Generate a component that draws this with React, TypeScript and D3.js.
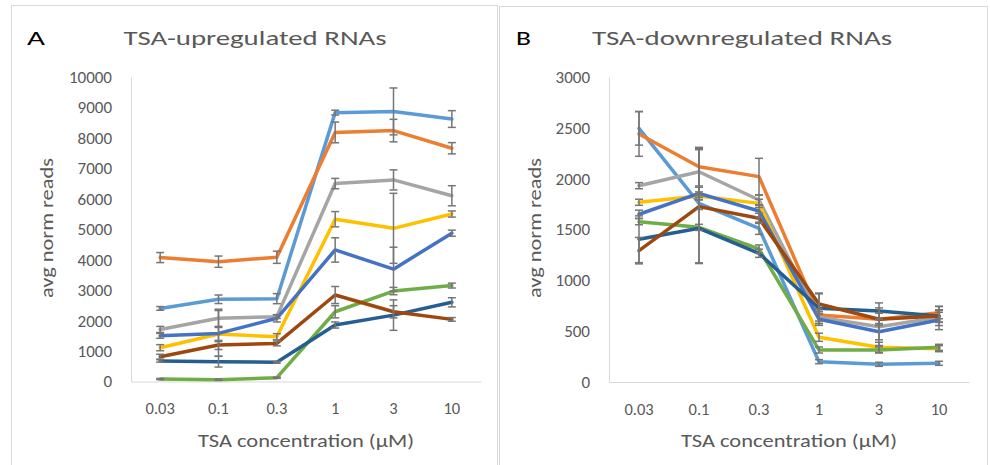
import React, { useEffect, useRef } from 'react';
import * as d3 from 'd3';

// x categories (TSA concentration, µM)
const categories = ['0.03', '0.1', '0.3', '1', '3', '10'];

// Excel office palette, in series order
const seriesColors = ['#5B9BD5', '#ED7D31', '#A5A5A5', '#FFC000', '#4472C4', '#70AD47', '#255E91', '#9E480E'];

// panel A - TSA-upregulated RNAs (avg norm reads)
const upLightBlue = [2400, 2700, 2720, 8830, 8870, 8620];
const upOrange = [4070, 3935, 4080, 8180, 8240, 7660];
const upGray = [1710, 2075, 2130, 6500, 6620, 6100];
const upYellow = [1110, 1560, 1470, 5330, 5030, 5500];
const upBlue = [1500, 1580, 2075, 4320, 3690, 4870];
const upGreen = [80, 60, 125, 2290, 2970, 3150];
const upNavy = [675, 650, 630, 1855, 2180, 2600];
const upBrown = [815, 1200, 1250, 2840, 2290, 2040];

const upErrLightBlue = [60, 140, 165, 80, 770, 275];
const upErrOrange = [165, 185, 200, 340, 370, 185];
const upErrGray = [100, 300, 60, 170, 330, 330];
const upErrYellow = [100, 250, 100, 250, 1150, 100];
const upErrBlue = [80, 750, 120, 400, 720, 100];
const upErrGreen = [20, 20, 20, 200, 120, 80];
const upErrNavy = [40, 175, 30, 100, 500, 150];
const upErrBrown = [80, 150, 80, 280, 200, 60];

const upTicks = [0, 1000, 2000, 3000, 4000, 5000, 6000, 7000, 8000, 9000, 10000];

// panel B - TSA-downregulated RNAs
const downLightBlue = [2495, 1757, 1512, 200, 174, 184];
const downOrange = [2440, 2118, 2020, 660, 617, 682];
const downGray = [1931, 2068, 1790, 636, 544, 636];
const downYellow = [1768, 1830, 1757, 440, 341, 328];
const downBlue = [1650, 1856, 1682, 617, 495, 610];
const downGreen = [1577, 1521, 1308, 315, 315, 341];
const downNavy = [1404, 1512, 1266, 725, 698, 650];
const downBrown = [1292, 1725, 1610, 767, 617, 650];

const downErrLightBlue = [165, 60, 60, 20, 20, 20];
const downErrOrange = [220, 190, 180, 60, 60, 60];
const downErrGray = [30, 230, 50, 60, 185, 50];
const downErrYellow = [30, 40, 40, 40, 50, 30];
const downErrBlue = [40, 60, 60, 60, 80, 95];
const downErrGreen = [30, 30, 40, 30, 30, 30];
const downErrNavy = [230, 340, 40, 150, 80, 60];
const downErrBrown = [130, 560, 50, 100, 60, 95];

const downTicks = [0, 500, 1000, 1500, 2000, 2500, 3000];

const panels = [
	{
		letter: 'A', title: 'TSA-upregulated RNAs',
		box: [11, 5, 497, 475], letterX: 27, letterW: 18, titleX: 255, titleW: 263, yTitleX: 53,
		plot: { left: 131, right: 481, top: 77, bottom: 381.5 },
		max: 10000, ticks: upTicks,
		values: [upLightBlue, upOrange, upGray, upYellow, upBlue, upGreen, upNavy, upBrown],
		errors: [upErrLightBlue, upErrOrange, upErrGray, upErrYellow, upErrBlue, upErrGreen, upErrNavy, upErrBrown],
	},
	{
		letter: 'B', title: 'TSA-downregulated RNAs',
		box: [499, 6, 987, 475], letterX: 516, letterW: 15, titleX: 742, titleW: 300, yTitleX: 541,
		plot: { left: 609, right: 969, top: 77, bottom: 382 },
		max: 3000, ticks: downTicks,
		values: [downLightBlue, downOrange, downGray, downYellow, downBlue, downGreen, downNavy, downBrown],
		errors: [downErrLightBlue, downErrOrange, downErrGray, downErrYellow, downErrBlue, downErrGreen, downErrNavy, downErrBrown],
	},
];

const font = 'Carlito, Calibri, Lato, sans-serif';
const textGray = '#595959';
const axisGray = '#D9D9D9';

const App = () => {
	const chartRef = useRef<SVGSVGElement>(null);

	useEffect(() => {
		const svg = d3.select(chartRef.current);
		svg.selectAll('*').remove();
		svg.append('rect').attr('width', 990).attr('height', 465).attr('fill', '#fff');

		panels.forEach((p) => {
			const g = svg.append('g').style('font-family', font);
			const [bx0, by0, bx1, by1] = p.box;
			g.append('rect')
				.attr('x', bx0 + 0.5).attr('y', by0 + 0.5)
				.attr('width', bx1 - bx0).attr('height', by1 - by0)
				.attr('fill', '#fff').attr('stroke', axisGray);

			// the source picture is stretched sideways, so the long labels get a fixed length
			g.append('text').attr('x', p.letterX).attr('y', 45)
				.attr('font-size', 20).attr('fill', '#000')
				.attr('textLength', p.letterW).attr('lengthAdjust', 'spacingAndGlyphs')
				.text(p.letter);
			g.append('text').attr('x', p.titleX - p.titleW / 2).attr('y', 45)
				.attr('font-size', 20).attr('font-weight', 300).attr('fill', textGray)
				.attr('textLength', p.titleW).attr('lengthAdjust', 'spacingAndGlyphs')
				.text(p.title);

			const x = d3.scaleBand().domain(categories).range([p.plot.left, p.plot.right]).padding(0);
			const cx = (c: string) => (x(c) as number) + x.bandwidth() / 2;
			const y = d3.scaleLinear().domain([0, p.max]).range([p.plot.bottom, p.plot.top]);

			const yAxis = g.append('g')
				.attr('transform', `translate(${p.plot.left},0)`)
				.call(d3.axisLeft(y).tickValues(p.ticks).tickSize(0).tickPadding(19).tickFormat(d3.format('d')));
			yAxis.select('.domain').attr('stroke', axisGray);
			yAxis.selectAll('text').attr('font-size', 17).attr('fill', textGray).style('font-family', font);

			const xAxis = g.append('g')
				.attr('transform', `translate(0,${p.plot.bottom})`)
				.call(d3.axisBottom(x).tickSize(0).tickPadding(21));
			xAxis.select('.domain').attr('stroke', axisGray);
			xAxis.selectAll('text').attr('font-size', 16.5).attr('fill', textGray).style('font-family', font);

			const xMid = (p.plot.left + p.plot.right) / 2;
			g.append('text')
				.attr('x', xMid - 108).attr('y', 447)
				.attr('font-size', 18).attr('fill', textGray)
				.attr('textLength', 216).attr('lengthAdjust', 'spacingAndGlyphs')
				.text('TSA concentration (µM)');
			g.append('text')
				.attr('transform', `translate(${p.yTitleX},298) rotate(-90)`)
				.attr('font-size', 19).attr('fill', textGray)
				.attr('textLength', 140).attr('lengthAdjust', 'spacingAndGlyphs')
				.text('avg norm reads');

			const line = d3.line<number>()
				.x((d, i) => cx(categories[i]))
				.y(d => y(d));

			p.values.forEach((vals, si) => {
				g.append('path')
					.datum(vals)
					.attr('fill', 'none')
					.attr('stroke', seriesColors[si])
					.attr('stroke-width', 3.5)
					.attr('stroke-linejoin', 'round')
					.attr('stroke-linecap', 'round')
					.attr('d', line);
			});

			p.values.forEach((vals, si) => {
				vals.forEach((v, i) => {
					const e = p.errors[si][i];
					const xc = cx(categories[i]);
					const eb = g.append('g').attr('stroke', '#767676').attr('stroke-width', 1.5);
					eb.append('line').attr('x1', xc).attr('x2', xc).attr('y1', y(v - e)).attr('y2', y(v + e));
					[v - e, v + e].forEach((t) => {
						eb.append('line').attr('x1', xc - 4).attr('x2', xc + 4).attr('y1', y(t)).attr('y2', y(t));
					});
				});
			});
		});
	}, []);

	return <svg ref={chartRef} width={990} height={465} style={{ position: 'absolute', left: 0, top: 0 }}></svg>;
};

export default App;
